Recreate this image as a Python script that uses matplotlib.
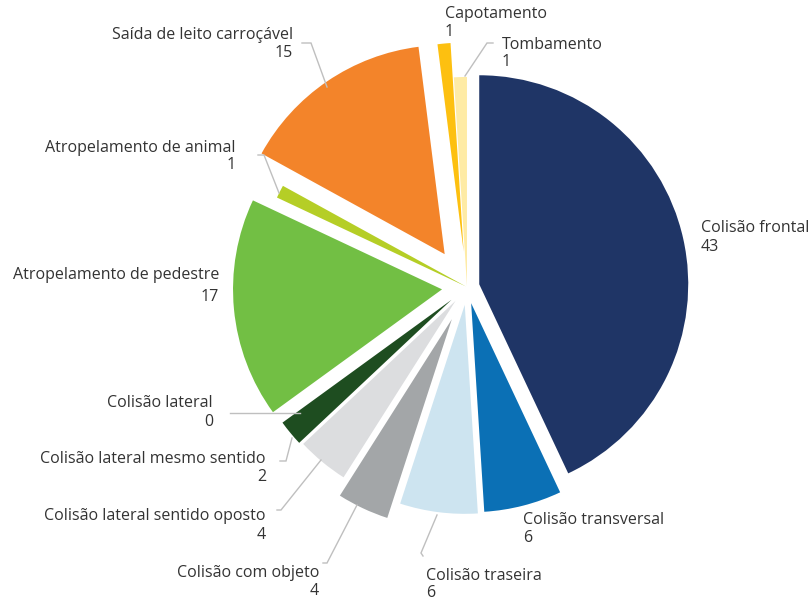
import matplotlib
matplotlib.use("Agg")
import matplotlib.pyplot as plt

# Ocorrências por tipo de acidente
categories = [
    "Colisão frontal",
    "Colisão transversal",
    "Colisão traseira",
    "Colisão com objeto",
    "Colisão lateral sentido oposto",
    "Colisão lateral mesmo sentido",
    "Colisão lateral",
    "Atropelamento de pedestre",
    "Atropelamento de animal",
    "Saída de leito carroçável",
    "Capotamento",
    "Tombamento",
]
values = [43, 6, 6, 4, 4, 2, 0, 17, 1, 15, 1, 1]

# Styling
colors = [
    "#1F3566", "#0B70B5", "#CDE4F0", "#A3A6A8", "#DCDDDF", "#1E4D20",
    "#5B9BD5", "#72BF44", "#B5CE26", "#F3842A", "#FDC010", "#FEEBA5",
]
explode_frac = [0.06, 0.08, 0.086, 0.17, 0.086, 0.096, 0.0, 0.12, 0.005, 0.19, 0.17, 0.005]

W, H = 809, 600
CENTER = (467, H - 287)
R = 209
TEXT_COLOR = "#333333"
LEADER_COLOR = "#BFBFBF"
FONT = ["Open Sans", "DejaVu Sans"]
FSIZE = 11.5

# label layout: x, name y, value y, alignment (pixel coords, y from top)
label_layout = [
    (701, 228, 247, "left"),
    (523, 520, 538, "left"),
    (426, 576, 593, "left"),
    (319, 573, 591, "right"),
    (266, 516, 535, "right"),
    (266, 459, 477, "right"),
    (213, 403, 422, "right"),
    (219, 275, 297, "right"),
    (236, 148, 165, "right"),
    (293, 35, 53, "right"),
    (445, 14, 32, "left"),
    (502, 45, 62, "left"),
]

# leader lines (pixel coords, y from top)
leaders = [
    [(302, 43), (311, 43), (327, 87)],
    [(493, 43), (487, 43), (465, 76)],
    [(258, 155), (264, 155), (279, 193)],
    [(230, 413), (300, 413)],
    [(280, 461), (286, 461), (292, 438)],
    [(277, 510), (281, 510), (321, 460)],
    [(323, 563), (327, 563), (357, 505)],
    [(423, 556), (421, 553), (437, 515)],
]

fig = plt.figure(figsize=(W / 100, H / 100), dpi=100)
ax = fig.add_axes([0, 0, 1, 1])

ax.pie(
    values,
    explode=[f * R for f in explode_frac],
    colors=colors,
    startangle=90,
    counterclock=False,
    center=CENTER,
    radius=R,
    wedgeprops=dict(linewidth=0),
)

ax.set_xlim(0, W)
ax.set_ylim(0, H)
ax.set_aspect("equal")
ax.axis("off")

for pts in leaders:
    xs = [p[0] for p in pts]
    ys = [H - p[1] for p in pts]
    ax.plot(xs, ys, color=LEADER_COLOR, lw=1.0, solid_joinstyle="miter", zorder=1)

for name, val, (x, yn, yv, ha) in zip(categories, values, label_layout):
    ax.text(x, H - yn, name, ha=ha, va="center", fontsize=FSIZE,
            family=FONT, color=TEXT_COLOR)
    ax.text(x, H - yv, str(val), ha=ha, va="center", fontsize=FSIZE,
            family=FONT, color=TEXT_COLOR)

fig.savefig("out.png", dpi=100, facecolor="white")
